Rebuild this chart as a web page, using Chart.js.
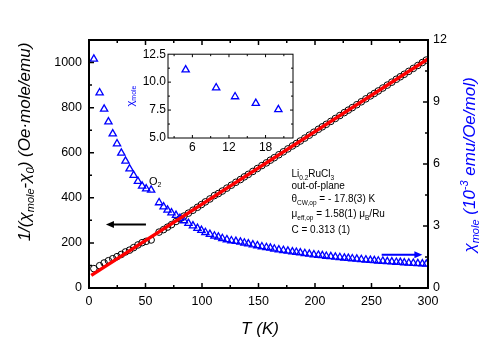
<!DOCTYPE html>
<html>
<head>
<meta charset="utf-8">
<script src="https://cdn.jsdelivr.net/npm/chart.js@4.4.0/dist/chart.umd.min.js"></script>
<style>
  body { margin: 0; background: #fff; }
  #wrap { position: relative; width: 498px; height: 348px; }
  #main { position: absolute; left: 0; top: 0; }
  #inset { position: absolute; left: 120px; top: 45px; }
</style>
</head>
<body>
<div id="wrap">
  <canvas id="main" width="498" height="348"></canvas>
  <canvas id="inset" width="180" height="110"></canvas>
</div>
<script>
// temperatures (K)
const temps = [4.3, 9.4, 13.4, 17.2, 21, 24.8, 28.6, 32.3, 35.9, 39.5, 43.3, 47, 50.6, 55,
  62, 66, 69.5, 73, 77, 80.5, 84, 88, 92, 96, 99.5, 103, 107, 111, 114.5, 118, 122, 126, 130, 134,
  137.5, 141, 145, 149, 153, 157, 160.5, 164, 168, 172, 176, 180, 183.5, 187, 191, 195, 199, 203,
  206.5, 210, 214, 218, 222, 226, 229.5, 233, 237, 241, 245, 249, 252.5, 256, 260, 264, 268, 272,
  275.5, 279, 283, 287, 291, 295, 298.5];

// 1/(chi - chi0), Oe mole/emu (left axis)
const invChi = [86, 99, 111, 121, 130, 139, 149, 160, 168, 179, 191, 201, 207, 213,
  248, 259, 270, 281, 295, 307, 319, 332, 345, 358, 370, 382, 395, 410, 419, 430, 443, 456, 469, 481,
  493, 504, 517, 530, 543, 555, 567, 578, 591, 604, 617, 630, 641, 652, 665, 678, 691, 704,
  715, 726, 739, 752, 765, 778, 789, 800, 813, 826, 839, 852, 863, 874, 887, 900, 913, 926,
  937, 948, 961, 974, 987, 1000, 1011];

// chi_mole, 10^-3 emu/Oe/mol (right axis)
const chiMole = [11.08, 9.45, 8.66, 8.04, 7.46, 6.98, 6.53, 6.14, 5.77, 5.45, 5.16, 4.93, 4.80, 4.74,
  4.13, 3.93, 3.77, 3.64, 3.52, 3.37, 3.26, 3.13, 3.01, 2.89, 2.79, 2.69, 2.60, 2.52, 2.47, 2.40, 2.34, 2.29, 2.26, 2.22,
  2.18, 2.14, 2.09, 2.05, 2.00, 1.96, 1.93, 1.89, 1.85, 1.82, 1.79, 1.75, 1.73, 1.70, 1.67, 1.64, 1.61, 1.59,
  1.57, 1.54, 1.52, 1.50, 1.48, 1.45, 1.44, 1.42, 1.40, 1.38, 1.36, 1.34, 1.33, 1.31, 1.30, 1.28, 1.27, 1.25,
  1.24, 1.22, 1.21, 1.20, 1.18, 1.17, 1.16];

// Curie-Weiss fit line
const fitT = [2, 300];
const fitY = [56, 1016];

// inset
const insetT = [4.9, 9.9, 13, 16.4, 20.1];
const insetChi = [11.1, 9.5, 8.7, 8.1, 7.55];

const FONT = "'Liberation Sans', Arial, sans-serif";
const BLUE = '#0000ff';

function pts(xs, ys) { return xs.map((x, i) => ({ x: x, y: ys[i] })); }

// draw text made of pieces: [text, size, dy, italic]
function drawParts(ctx, parts, x, y, align) {
  let w = 0;
  parts.forEach(p => {
    ctx.font = (p[3] ? 'italic ' : '') + p[1] + 'px ' + FONT;
    w += ctx.measureText(p[0]).width;
  });
  let cx = align === 'center' ? x - w / 2 : x;
  ctx.textAlign = 'left';
  ctx.textBaseline = 'alphabetic';
  parts.forEach(p => {
    ctx.font = (p[3] ? 'italic ' : '') + p[1] + 'px ' + FONT;
    ctx.fillText(p[0], cx, y + (p[2] || 0));
    cx += ctx.measureText(p[0]).width;
  });
}

function arrow(ctx, x1, y1, x2, y2, color) {
  const dir = Math.sign(x2 - x1);
  ctx.save();
  ctx.strokeStyle = color;
  ctx.fillStyle = color;
  ctx.lineWidth = 2;
  ctx.beginPath();
  ctx.moveTo(x1, y1);
  ctx.lineTo(x2 - dir * 6, y2);
  ctx.stroke();
  ctx.beginPath();
  ctx.moveTo(x2, y2);
  ctx.lineTo(x2 - dir * 8, y2 - 3.5);
  ctx.lineTo(x2 - dir * 8, y2 + 3.5);
  ctx.closePath();
  ctx.fill();
  ctx.restore();
}

const mainDecor = {
  id: 'mainDecor',
  afterDraw(chart) {
    const ctx = chart.ctx;
    const a = chart.chartArea;
    const sx = chart.scales.x, sy = chart.scales.y, sy2 = chart.scales.y2;
    ctx.save();
    ctx.strokeStyle = '#000';
    ctx.lineWidth = 1.5;
    ctx.beginPath();
    for (let v = 25; v < 300; v += 25) {
      const px = sx.getPixelForValue(v);
      const l = v % 50 === 0 ? 5 : 3;
      ctx.moveTo(px, a.bottom); ctx.lineTo(px, a.bottom - l);
      ctx.moveTo(px, a.top); ctx.lineTo(px, a.top + l);
    }
    for (let v = 100; v < 1100; v += 100) {
      const py = sy.getPixelForValue(v);
      const l = v % 200 === 0 ? 5 : 3;
      ctx.moveTo(a.left, py); ctx.lineTo(a.left + l, py);
    }
    for (let v = 1.5; v < 12; v += 1.5) {
      const py = sy2.getPixelForValue(v);
      const l = v % 3 === 0 ? 5 : 3;
      ctx.moveTo(a.right, py); ctx.lineTo(a.right - l, py);
    }
    ctx.stroke();
    ctx.lineWidth = 2;
    ctx.strokeRect(a.left, a.top, a.right - a.left, a.bottom - a.top);

    // arrows
    arrow(ctx, sx.getPixelForValue(50.4), sy.getPixelForValue(282), sx.getPixelForValue(15), sy.getPixelForValue(282), '#000');
    arrow(ctx, sx.getPixelForValue(259), sy2.getPixelForValue(1.61), sx.getPixelForValue(295), sy2.getPixelForValue(1.61), BLUE);

    // labels
    ctx.fillStyle = '#000';
    drawParts(ctx, [['O', 11], ['2', 7, 2.5]], 149, 184.5, 'left');
    const tx = 291.5;
    drawParts(ctx, [['Li', 10], ['0.2', 6.5, 2.5], ['RuCl', 10], ['3', 6.5, 2.5]], tx, 177, 'left');
    drawParts(ctx, [['out-of-plane', 10]], tx, 189, 'left');
    drawParts(ctx, [['\u03b8', 10], ['CW,op', 6.5, 2.5], [' = - 17.8(3) K', 10]], tx, 202, 'left');
    drawParts(ctx, [['\u03bc', 10], ['eff,op', 6.5, 2.5], [' = 1.58(1) \u03bc', 10], ['B', 6.5, 2.5], ['/Ru', 10]], tx, 217, 'left');
    drawParts(ctx, [['C = 0.313 (1)', 10]], tx, 233, 'left');

    // axis titles
    drawParts(ctx, [['T (K)', 17, 0, true]], 260, 333.5, 'center');
    ctx.save();
    ctx.translate(29.5, 142);
    ctx.rotate(-Math.PI / 2);
    drawParts(ctx, [['1/(\u03c7', 17, 0, true], ['mole', 11, 4, true], ['-\u03c7', 17, 0, true], ['0', 11, 4, true],
      [') (Oe\u00b7mole/emu)', 17, 0, true]], 0, 0, 'center');
    ctx.restore();
    ctx.save();
    ctx.fillStyle = BLUE;
    ctx.translate(475, 165);
    ctx.rotate(-Math.PI / 2);
    drawParts(ctx, [['\u03c7', 17, 0, true], ['mole', 11, 4, true], [' (10', 17, 0, true], ['-3', 11, -7, true],
      [' emu/Oe/mol)', 17, 0, true]], 0, 0, 'center');
    ctx.restore();
    ctx.restore();
  }
};

const tickFont = { family: FONT, size: 12.5 };

new Chart(document.getElementById('main'), {
  type: 'scatter',
  data: {
    datasets: [
      {
        data: pts(fitT, fitY), yAxisID: 'y', showLine: true, borderColor: '#ff0000',
        borderWidth: 3.5, pointRadius: 0, order: 0
      },
      {
        data: pts(temps, chiMole), yAxisID: 'y2', pointStyle: 'triangle', pointRadius: 4.2,
        borderColor: BLUE, backgroundColor: 'rgba(0,0,0,0)', borderWidth: 1.3, order: 1
      },
      {
        data: pts(temps, invChi), yAxisID: 'y', pointStyle: 'circle', pointRadius: 3.3,
        borderColor: '#000', backgroundColor: 'rgba(0,0,0,0)', borderWidth: 1, order: 2
      }
    ]
  },
  options: {
    responsive: false,
    animation: false,
    layout: { padding: { top: 40, left: 0, right: 0, bottom: 0 } },
    plugins: { legend: { display: false }, tooltip: { enabled: false } },
    scales: {
      x: {
        type: 'linear', min: 0, max: 300,
        afterFit: s => { s.height = 60; },
        grid: { display: false, drawTicks: false }, border: { display: false },
        ticks: { stepSize: 50, padding: 6, font: tickFont, color: '#000', maxRotation: 0, autoSkip: false,
          callback: v => String(v) }
      },
      y: {
        position: 'left', min: 0, max: 1100,
        afterFit: s => { s.width = 89; },
        afterBuildTicks: s => { s.ticks = s.ticks.filter(t => t.value % 200 === 0); },
        grid: { display: false, drawTicks: false }, border: { display: false },
        ticks: { stepSize: 200, padding: 7, font: tickFont, color: '#000', callback: v => String(v) }
      },
      y2: {
        position: 'right', min: 0, max: 12,
        afterFit: s => { s.width = 70; },
        grid: { display: false, drawTicks: false }, border: { display: false },
        ticks: { stepSize: 3, padding: 5, font: tickFont, color: '#000', callback: v => String(v) }
      }
    }
  },
  plugins: [mainDecor]
});

const insetDecor = {
  id: 'insetDecor',
  afterDraw(chart) {
    const ctx = chart.ctx;
    const a = chart.chartArea;
    const sx = chart.scales.x, sy = chart.scales.y;
    ctx.save();
    ctx.strokeStyle = '#000';
    ctx.lineWidth = 1;
    ctx.strokeRect(a.left, a.top, a.right - a.left, a.bottom - a.top);
    ctx.beginPath();
    for (let v = 3; v <= 21; v += 3) {
      const px = sx.getPixelForValue(v);
      const l = v % 6 === 0 ? 3 : 2;
      ctx.moveTo(px, a.bottom); ctx.lineTo(px, a.bottom - l);
      ctx.moveTo(px, a.top); ctx.lineTo(px, a.top + l);
    }
    for (let v = 6.25; v < 12.5; v += 1.25) {
      const py = sy.getPixelForValue(v);
      const l = (v * 2) % 5 === 0 ? 3 : 2;
      ctx.moveTo(a.left, py); ctx.lineTo(a.left + l, py);
      ctx.moveTo(a.right, py); ctx.lineTo(a.right - l, py);
    }
    ctx.stroke();
    ctx.fillStyle = BLUE;
    ctx.translate(13.5, 51);
    ctx.rotate(-Math.PI / 2);
    drawParts(ctx, [['\u03c7', 11], ['mole', 7, 2.5]], 0, 0, 'center');
    ctx.restore();
  }
};

const insetFont = { family: FONT, size: 12 };

new Chart(document.getElementById('inset'), {
  type: 'scatter',
  data: {
    datasets: [{
      data: pts(insetT, insetChi), pointStyle: 'triangle', pointRadius: 4.2,
      borderColor: BLUE, backgroundColor: 'rgba(0,0,0,0)', borderWidth: 1.3
    }]
  },
  options: {
    responsive: false,
    animation: false,
    layout: { padding: { top: 9, right: 7, left: 0, bottom: 0 } },
    plugins: { legend: { display: false }, tooltip: { enabled: false } },
    scales: {
      x: {
        type: 'linear', min: 2, max: 22.5,
        afterFit: s => { s.height = 17; },
        afterBuildTicks: s => { s.ticks = [6, 12, 18].map(v => ({ value: v })); },
        grid: { display: false, drawTicks: false }, border: { display: false },
        ticks: { padding: 2, font: insetFont, color: '#000', maxRotation: 0, autoSkip: false }
      },
      y: {
        min: 5, max: 12.5,
        afterFit: s => { s.width = 48; },
        grid: { display: false, drawTicks: false }, border: { display: false },
        ticks: { stepSize: 2.5, padding: 2, font: insetFont, color: '#000', callback: v => v.toFixed(1) }
      }
    }
  },
  plugins: [insetDecor]
});
</script>
</body>
</html>
